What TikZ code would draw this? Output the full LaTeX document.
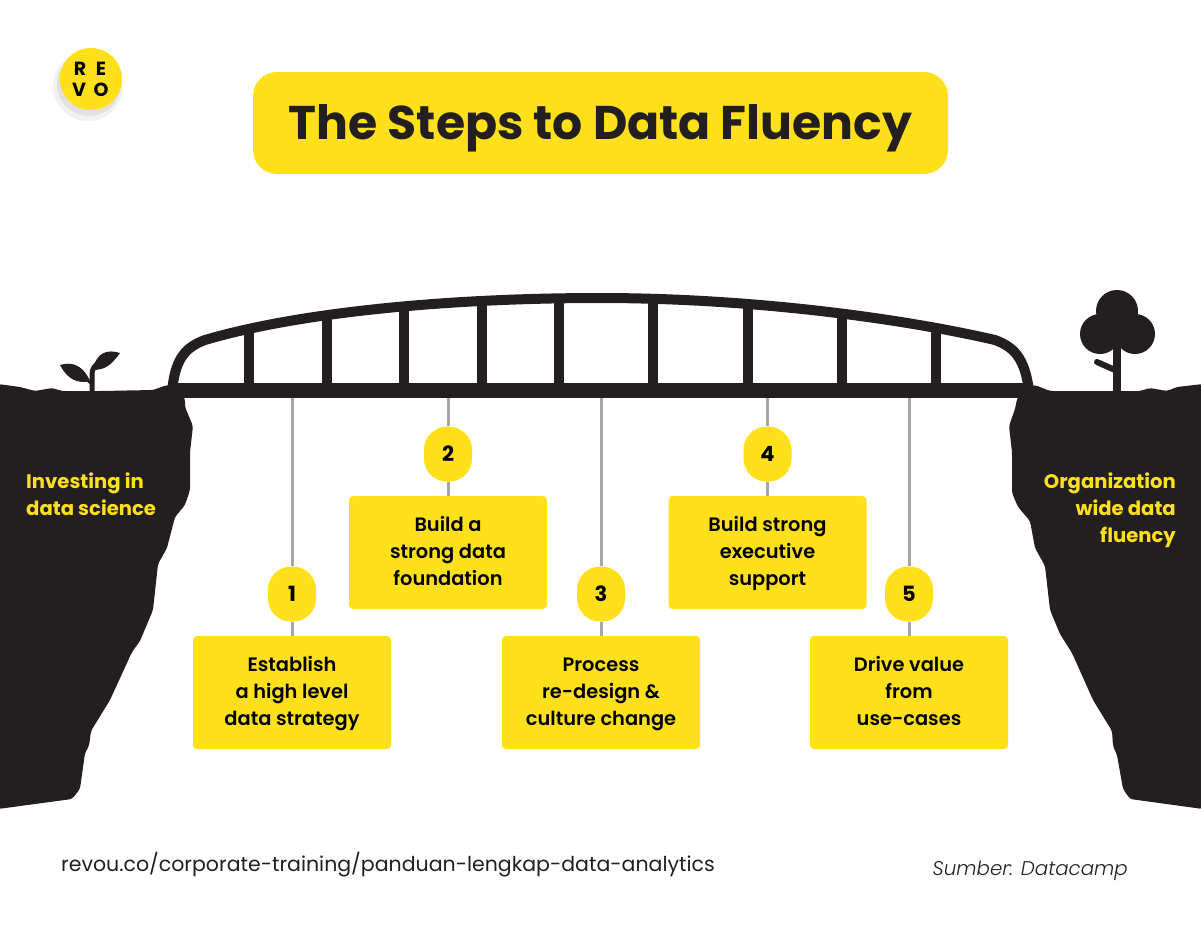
\documentclass[tikz,border=0pt]{standalone}
\usepackage{fontspec}
\setmainfont{Poppins}[UprightFont=* SemiBold,BoldFont=* Bold,ItalicFont=* Light Italic]
\newfontfamily\plainfont{Poppins}
\usetikzlibrary{positioning}
\definecolor{revoyellow}{HTML}{FFE01B}
\definecolor{cliffdark}{HTML}{231F20}
\definecolor{stemgray}{HTML}{A6A6A6}
\newcommand{\firststrut}{\rule{0pt}{72.5pt}}
\newcommand{\laststrut}{\rule[-6pt]{0pt}{6pt}}

\begin{document}
\begin{tikzpicture}[x=1pt,y=-1pt,inner sep=0pt,
    titlebox/.style={fill=revoyellow,rounded corners=24pt,minimum width=695pt,minimum height=102pt,font=\fontsize{47.3}{50}\bfseries\selectfont,text=cliffdark,text height=41pt,text depth=9pt},
    stepbox/.style={fill=revoyellow,rounded corners=4pt,minimum width=198pt,minimum height=113pt,align=center,font=\fontsize{19.4}{27}\selectfont,text=black,execute at begin node=\firststrut,execute at end node=\laststrut},
    numpill/.style={fill=revoyellow,rounded corners=23pt,minimum width=48pt,minimum height=55pt,font=\fontsize{21}{24}\bfseries\selectfont,text=black},
    stem/.style={stemgray,line width=3pt},
    cliff/.style={fill=cliffdark,draw=none,rounded corners=3pt},
    cliffnote/.style={text=revoyellow,font=\fontsize{19.6}{27}\bfseries\selectfont,execute at end node=\laststrut},
    logoletter/.style={font=\fontsize{19}{19}\bfseries\selectfont,text=black},
    post/.style={cliffdark,line width=10pt},
    arch/.style={cliffdark,line width=10pt}]

  \useasboundingbox (0,0) rectangle (1201,930);

  % logo
  \fill[black,opacity=.05] (88,86) circle (35);
  \fill[black,opacity=.07] (89,84) circle (32);
  \fill[revoyellow] (91,79) circle (31);
  \node[logoletter] (logoR) at (80,69) {R};
  \node[logoletter] (logoE) at (101,69) {E};
  \node[logoletter] (logoV) at (79,90) {V};
  \node[logoletter] (logoO) at (101,90) {O};

  \node[titlebox] (title) at (600.5,123) {The Steps to Data Fluency};

  % left and right cliff
  \fill[cliff] (-2,384) -- (20,387) -- (35,391) -- (52,388) -- (62,391) -- (100,391) -- (153,390)
    -- (167,385) -- (178,387) -- (185,399) -- (185,407) -- (193,426) -- (190,452) -- (190,490) -- (185,505)
    -- (175,517) -- (167,548) -- (158,564) -- (153,610) -- (140,641) -- (132,652) -- (110,700)
    -- (91,731) -- (89,746) -- (85,753) -- (80,789) -- (72,799) -- (-2,809) -- cycle;
  \fill[cliff] (1203,384) -- (1177,387) -- (1167,391) -- (1150,388) -- (1140,391) -- (1117,391) -- (1050,391)
    -- (1035,385) -- (1024,387) -- (1017,399) -- (1015,409) -- (1009,426) -- (1012,452) -- (1012,493) -- (1018,507)
    -- (1030,521) -- (1035,548) -- (1045,566) -- (1050,610) -- (1060,634) -- (1072,653) -- (1093,700)
    -- (1112,731) -- (1113,746) -- (1117,755) -- (1123,789) -- (1130,799) -- (1203,809) -- cycle;

  % sprout
  \draw[cliffdark,line width=5pt] (92,392) -- (92,375) .. controls (92,369) and (94,367) .. (97,364);
  \draw[cliffdark,line width=3pt] (92,384) -- (85,378);
  \fill[cliffdark] (60,365) .. controls (70,362) and (82,363) .. (90,381) .. controls (78,384) and (68,380) .. (60,365) -- cycle;
  \fill[cliffdark] (120,353) .. controls (108,349) and (96,352) .. (93,370) .. controls (106,370) and (112,364) .. (120,353) -- cycle;

  % tree
  \fill[cliffdark] (1117,311) circle (21);
  \fill[cliffdark] (1100,334) circle (20);
  \fill[cliffdark] (1135,334) circle (20);
  \draw[cliffdark,line width=7.5pt] (1117,325) -- (1117,392);
  \draw[cliffdark,line width=6pt,line cap=round] (1097,362) -- (1115,370);

  % bridge
  \node[fill=cliffdark,minimum width=860pt,minimum height=15pt] (deck) at (600,390.5) {};
  \draw[arch] (172.5,387) .. controls (176,358) and (186,347) .. (205,340)
    .. controls (300,312) and (450,298) .. (600,298)
    .. controls (750,298) and (900,318) .. (995,340)
    .. controls (1014,347) and (1024,358) .. (1028.5,387);
  \foreach \px/\ptop in {249/329,327/315,404/307,482/302,559/299,653/300,748/305,842/313,936/328}
    \draw[post] (\px,\ptop) -- (\px,390);

  % steps
  \node[stepbox] (step1) at (292,692.5) {Establish\\a high level\\data strategy};
  \node[stepbox] (step2) at (448,552.5) {Build a\\strong data\\foundation};
  \node[stepbox] (step3) at (601,692.5) {Process\\re-design \&\\culture change};
  \node[stepbox] (step4) at (767.5,552.5) {Build strong\\executive\\support};
  \node[stepbox] (step5) at (909,692.5) {Drive value\\from\\use-cases};

  \foreach \i in {1,...,5} {
    \node[numpill] (num\i) [above=14pt of step\i] {\i};
    \draw[stem] (step\i) -- (num\i);
    \draw[stem] (num\i) -- (num\i |- deck.south);
  }

  \node[cliffnote,anchor=west,align=left] (leftnote) at (26,497) {Investing in\\data science};
  \node[cliffnote,anchor=east,align=right] (rightnote) at (1176,511) {Organization\\wide data\\fluency};

  \node[anchor=west,font=\plainfont\fontsize{20.5}{26}\selectfont,text=cliffdark] (source) at (61,865) {revou.co/corporate-training/panduan-lengkap-data-analytics};
  \node[anchor=east,font=\fontsize{19.8}{26}\itshape\selectfont,text=cliffdark] (credit) at (1128,871) {Sumber: Datacamp};
\end{tikzpicture}
\end{document}
